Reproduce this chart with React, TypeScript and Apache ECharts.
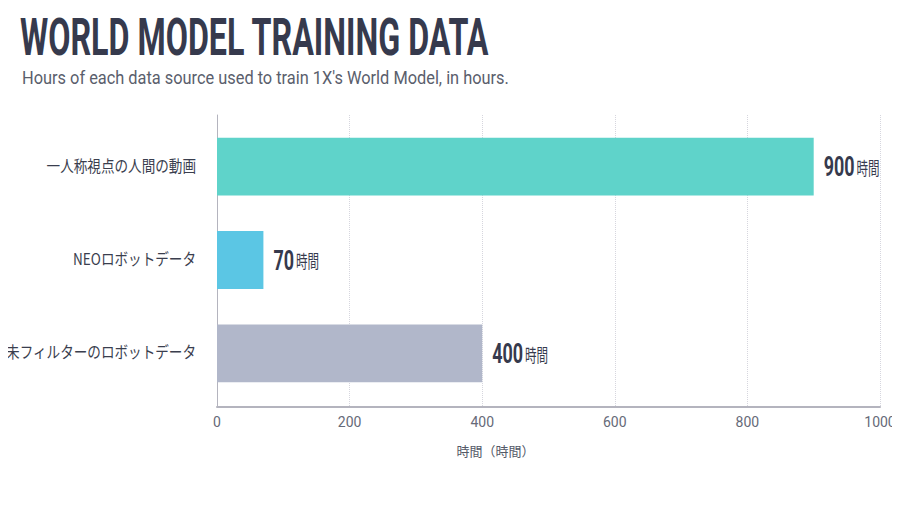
import React, { useRef, useEffect } from "react";
import * as echarts from "echarts";

const titleText = "WORLD MODEL TRAINING DATA";
const subtitleText = "Hours of each data source used to train 1X's World Model, in hours.";
const categories = ["一人称視点の人間の動画", "NEOロボットデータ", "未フィルターのロボットデータ"];
const hours = [900, 70, 400];
const unit = "時間";
const xTicks = { min: 0, max: 1000, interval: 200 };
const barColors = ["#5fd3ca", "#5bc6e4", "#b1b7ca"];

const App = function () {
  const chart = useRef<HTMLDivElement>(null);
  useEffect(() => {
    if (!chart.current) return;
    const myChart = echarts.init(chart.current, undefined, { renderer: "svg" });
    const option = {
      animation: false,
      backgroundColor: "#ffffff",
      graphic: [
        {
          type: "text",
          left: 20,
          top: 12,
          scaleX: 0.62,
          style: {
            text: titleText,
            fontFamily: "Roboto, sans-serif",
            fontWeight: "bold",
            fontSize: 52,
            fill: "#363a4d",
          },
        },
        {
          type: "text",
          left: 22,
          top: 69,
          scaleX: 0.91,
          style: {
            text: subtitleText,
            fontFamily: "Roboto, sans-serif",
            fontSize: 18,
            fill: "#5a5e6c",
          },
        },
      ],
      // grid 0 holds the bars, grid 1 draws the outer frame (axis lines, ticks, split lines)
      grid: [
        { left: 217, right: 20, top: 120, bottom: 106, outerBoundsMode: "none", containLabel: false },
        { left: 217, right: 20, top: 115, bottom: 99, outerBoundsMode: "none", containLabel: false },
      ],
      xAxis: [
        {
          gridIndex: 0,
          type: "value",
          ...xTicks,
          show: false,
        },
        {
          gridIndex: 1,
          type: "value",
          ...xTicks,
          name: "時間（時間）",
          nameLocation: "middle",
          nameGap: 37,
          nameTextStyle: {
            fontFamily: "'Noto Sans CJK JP', sans-serif",
            fontSize: 13,
            color: "#555a68",
            padding: [0, 106, 0, 0],
          },
          axisLine: { show: true, lineStyle: { color: "#b4b4be", width: 2 } },
          axisTick: { show: false },
          axisLabel: {
            formatter: (v: number) => String(v),
            fontFamily: "Roboto, sans-serif",
            fontSize: 14,
            color: "#666a78",
            margin: 8,
          },
          splitLine: { show: true, lineStyle: { color: "#d6d6de", type: "dotted" } },
        },
      ],
      yAxis: [
        {
          gridIndex: 0,
          type: "category",
          data: categories,
          inverse: true,
          show: false,
        },
        {
          gridIndex: 1,
          type: "category",
          data: categories,
          inverse: true,
          axisLine: { show: true, lineStyle: { color: "#b4b4be", width: 1 } },
          axisTick: { show: false },
          axisLabel: { show: false },
        },
      ],
      series: [
        {
          name: "時間",
          type: "bar",
          xAxisIndex: 0,
          yAxisIndex: 0,
          barWidth: "62%",
          data: hours.map((v, i) => ({ value: v, itemStyle: { color: barColors[i] } })),
        },
        {
          // category labels, condensed
          name: "categories",
          type: "custom",
          xAxisIndex: 0,
          yAxisIndex: 0,
          data: categories.map((c, i) => [0, i]),
          encode: { x: 0, y: 1 },
          silent: true,
          renderItem: (params: any, api: any) => {
            const p = api.coord([0, api.value(1)]);
            return {
              type: "text",
              x: p[0] - 21,
              y: p[1] - 2,
              scaleX: 0.85,
              style: {
                text: categories[params.dataIndex],
                fontFamily: "'Noto Sans CJK JP', sans-serif",
                fontSize: 16,
                fill: "#3a3e4e",
                align: "right",
                verticalAlign: "middle",
              },
            };
          },
        },
        {
          // value labels, condensed
          name: "values",
          type: "custom",
          xAxisIndex: 0,
          yAxisIndex: 0,
          data: hours.map((v, i) => [v, i]),
          encode: { x: 0, y: 1 },
          silent: true,
          renderItem: (params: any, api: any) => {
            const p = api.coord([api.value(0), api.value(1)]);
            return {
              type: "text",
              x: p[0] + 10,
              y: p[1],
              scaleX: 0.64,
              style: {
                text: "{a|" + api.value(0) + "}{b|" + unit + "}",
                align: "left",
                verticalAlign: "middle",
                rich: {
                  a: {
                    fontFamily: "Roboto, sans-serif",
                    fontWeight: "bold",
                    fontSize: 28,
                    fill: "#363a4d",
                    lineHeight: 30,
                  },
                  b: {
                    fontFamily: "'Noto Sans CJK JP', sans-serif",
                    fontSize: 18,
                    fill: "#363a4d",
                    lineHeight: 30,
                    padding: [0, 0, 0, 3],
                  },
                },
              },
            };
          },
        },
      ],
    };
    myChart.setOption(option);
    return () => {
      myChart.dispose();
    };
  }, []);
  return <div ref={chart} style={{ width: 900, height: 506, margin: -8 }}></div>;
};
export default App;
